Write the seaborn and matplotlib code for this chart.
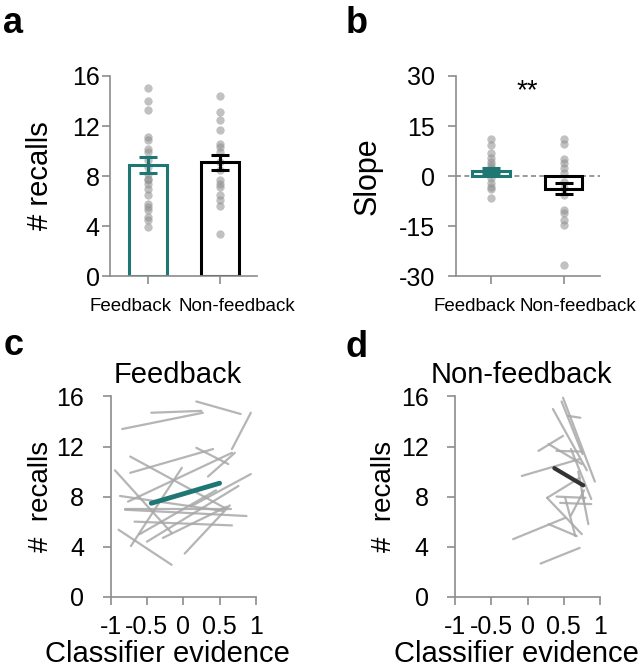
import numpy as np
import pandas as pd
import matplotlib
matplotlib.use("Agg")
import matplotlib.pyplot as plt
import matplotlib.transforms as mtransforms
import seaborn as sns

sns.set_style("white")
plt.rcParams["font.family"] = ["Liberation Sans", "DejaVu Sans"]
plt.rcParams["text.color"] = "black"
plt.rcParams["axes.labelcolor"] = "black"
plt.rcParams["xtick.labelcolor"] = "black"
plt.rcParams["ytick.labelcolor"] = "black"
plt.rcParams["axes.unicode_minus"] = False

# ---- data ----
conditions = ["Feedback", "Non-feedback"]

# panel a: recalls per subject
recalls_fb = [15.0, 14.0, 13.3, 11.1, 10.9, 10.2, 9.9, 9.3, 8.7, 8.2, 7.8,
              7.7, 7.4, 7.0, 6.5, 5.8, 5.5, 5.3, 4.7, 4.5, 3.9]
recalls_nfb = [14.4, 13.1, 12.5, 11.7, 10.6, 10.3, 9.9, 9.1, 8.5, 7.7, 7.4,
               7.1, 6.5, 6.1, 5.6, 3.4]
recalls_mean = [8.9, 9.1]
recalls_sem = [0.65, 0.6]

# panel b: slopes per subject
slope_fb = [11.2, 9.4, 6.8, 5.3, 4.3, 3.3, 2.3, 1.3, 0.5, -0.7, -2.2, -3.2,
            -4.0, -6.6]
slope_nfb = [11.0, 9.6, 5.0, 3.8, 2.3, 0.8, -1.7, -3.7, -5.7, -10.2, -11.2,
             -13.2, -14.7, -26.7]
slope_mean = [1.5, -3.8]
slope_sem = [1.0, 1.7]

# panel c: per-subject fits (x0, y0, x1, y1), feedback
fb_lines = [
    (-0.84, 13.4, 0.27, 14.7), (-0.44, 14.7, 0.25, 14.85),
    (0.18, 15.6, 0.79, 14.6), (0.67, 11.8, 0.93, 14.7),
    (-0.73, 9.9, 0.41, 11.8), (-0.73, 11.2, 0.57, 7.1),
    (-0.94, 10.1, -0.16, 5.1), (-0.89, 5.35, -0.16, 2.55),
    (0.02, 3.45, 0.64, 7.3), (-0.72, 4.05, -0.02, 10.3),
    (-0.5, 4.4, 0.76, 8.85), (-0.28, 4.7, 0.6, 7.2),
    (-0.8, 6.95, 0.87, 6.45), (-0.67, 6.0, 0.67, 5.7),
    (-0.87, 8.05, 0.55, 6.85), (-0.8, 7.0, 0.66, 7.0),
    (-0.76, 7.6, 0.67, 11.5), (0.34, 9.6, 0.71, 11.5),
    (0.1, 7.2, 0.93, 9.8), (0.18, 11.9, 0.62, 10.6),
    (-0.6, 5.0, 0.45, 8.5),
]
fb_group = (-0.44, 7.47, 0.5, 9.07)

# panel d: per-subject fits, non-feedback
nfb_lines = [
    (0.49, 15.9, 0.93, 9.2), (0.47, 15.6, 0.76, 11.4),
    (0.35, 15.0, 0.82, 10.1), (0.56, 14.45, 0.73, 14.3),
    (0.15, 11.65, 0.49, 12.85), (0.29, 12.2, 0.75, 10.6),
    (0.40, 11.65, 0.75, 11.6), (-0.08, 9.65, 0.72, 11.0),
    (0.27, 7.9, 0.72, 9.5), (0.27, 7.9, 0.75, 5.0),
    (0.45, 7.5, 0.88, 7.4), (0.52, 7.9, 0.66, 4.85),
    (-0.2, 4.6, 0.52, 6.3), (0.29, 5.8, 0.68, 4.85),
    (0.18, 2.65, 0.72, 3.9), (0.75, 8.45, 0.84, 5.8),
    (0.70, 10.0, 0.78, 7.6), (0.6, 11.8, 0.88, 7.8),
    (0.6, 6.5, 0.78, 8.5), (0.40, 8.0, 0.80, 7.9),
]
nfb_group = (0.37, 10.27, 0.77, 8.9)

TEAL = "#1f7774"
GRAY_DOT = "#8f8f8f"
GRAY_LINE = "#a8a8a8"
SPINE = "#8c8c8c"


def style_axes(ax, ypad):
    sns.despine(ax=ax)
    for s in ["left", "bottom"]:
        ax.spines[s].set_color(SPINE)
        ax.spines[s].set_linewidth(1.2)
    ax.tick_params(axis="both", which="both", direction="out", length=5.5,
                   width=1.2, color=SPINE, labelsize=18,
                   left=True, bottom=True)
    ax.tick_params(axis="y", pad=ypad)


def bar_panel(ax, fb, nfb, means, sems, shifts):
    dots = pd.DataFrame({
        "cond": [conditions[0]] * len(fb) + [conditions[1]] * len(nfb),
        "val": fb + nfb,
    })
    sns.stripplot(data=dots, x="cond", y="val", order=conditions, jitter=False,
                  color=GRAY_DOT, alpha=0.55, size=6, linewidth=0, ax=ax,
                  zorder=1)
    bars = pd.DataFrame({"cond": conditions, "val": means})
    sns.barplot(data=bars, x="cond", y="val", hue="cond", order=conditions,
                palette=[TEAL, "black"], fill=False, linewidth=2.2,
                width=0.52, errorbar=None, legend=False, ax=ax, zorder=2)
    for i, (m, e) in enumerate(zip(means, sems)):
        ax.errorbar(i, m, yerr=e, color=[TEAL, "black"][i], capsize=6.5,
                    capthick=2.2, elinewidth=2.2, zorder=3)
    ax.set_xlabel("")
    style_axes(ax, 2.0)
    ax.tick_params(axis="x", labelsize=13.5, pad=10)
    # spread the two category labels apart so they don't collide
    for lab, dx in zip(ax.get_xticklabels(), shifts):
        off = mtransforms.ScaledTranslation(dx, 0, ax.figure.dpi_scale_trans)
        lab.set_transform(lab.get_transform() + off)


def line_panel(ax, lines, group, gcolor, glw, title, title_x, xlab_x):
    rows = []
    for i, (x0, y0, x1, y1) in enumerate(lines):
        rows.append({"subj": i, "x": x0, "y": y0})
        rows.append({"subj": i, "x": x1, "y": y1})
    df = pd.DataFrame(rows)
    sns.lineplot(data=df, x="x", y="y", units="subj", estimator=None,
                 color=GRAY_LINE, linewidth=1.6, alpha=0.85, ax=ax)
    g = pd.DataFrame({"x": [group[0], group[2]], "y": [group[1], group[3]]})
    sns.lineplot(data=g, x="x", y="y", color=gcolor, linewidth=glw, ax=ax)
    ax.set_xlim(-1, 1)
    ax.set_ylim(0, 16)
    ax.set_xticks([-1, -0.5, 0, 0.5, 1])
    ax.set_xticklabels(["-1", "-0.5", "0", "0.5", "1"])
    ax.set_yticks([0, 4, 8, 12, 16])
    ax.set_xlabel("Classifier evidence", fontsize=21)
    ax.xaxis.set_label_coords(xlab_x, -0.215)
    ax.set_ylabel("#  recalls", fontsize=20)
    ax.set_title(title, fontsize=21, pad=10, x=title_x)
    style_axes(ax, 13.5)
    ax.tick_params(axis="x", pad=8)


fig = plt.figure(figsize=(6.43, 6.72), dpi=100)
ax_a = fig.add_axes([0.171, 0.589, 0.229, 0.298])
ax_b = fig.add_axes([0.709, 0.589, 0.224, 0.298])
ax_c = fig.add_axes([0.172, 0.112, 0.226, 0.298])
ax_d = fig.add_axes([0.708, 0.112, 0.225, 0.298])

# a
bar_panel(ax_a, recalls_fb, recalls_nfb, recalls_mean, recalls_sem,
          [-0.17, 0.17])
ax_a.set_ylim(0, 16)
ax_a.set_yticks([0, 4, 8, 12, 16])
ax_a.set_xlim(-0.52, 1.51)
ax_a.set_ylabel("# recalls", fontsize=21)
ax_a.yaxis.set_label_coords(-0.38, 0.5)

# b
ax_b.axhline(0, color="#888888", linestyle=(0, (3, 2)), linewidth=1.2, zorder=0)
bar_panel(ax_b, slope_fb, slope_nfb, slope_mean, slope_sem, [-0.16, 0.14])
ax_b.set_ylim(-30, 30)
ax_b.set_yticks([-30, -15, 0, 15, 30])
ax_b.set_xlim(-0.48, 1.5)
ax_b.set_ylabel("Slope", fontsize=22)
ax_b.yaxis.set_label_coords(-0.51, 0.5)
ax_b.tick_params(axis="y", pad=9.5)
ax_b.text(0.5, 25.5, "**", ha="center", va="center", fontsize=20)

# c, d
line_panel(ax_c, fb_lines, fb_group, TEAL, 3.5, "Feedback", 0.463, 0.394)
ax_c.yaxis.set_label_coords(-0.39, 0.5)
line_panel(ax_d, nfb_lines, nfb_group, "#333333", 3.0, "Non-feedback",
           0.455, 0.42)
ax_d.yaxis.set_label_coords(-0.405, 0.5)

for label, x, y in [("a", 0.005, 0.951), ("b", 0.537, 0.951),
                    ("c", 0.005, 0.472), ("d", 0.537, 0.469)]:
    fig.text(x, y, label, fontsize=26, fontweight="bold", ha="left",
             va="baseline")

fig.savefig("out.png", dpi=100)
